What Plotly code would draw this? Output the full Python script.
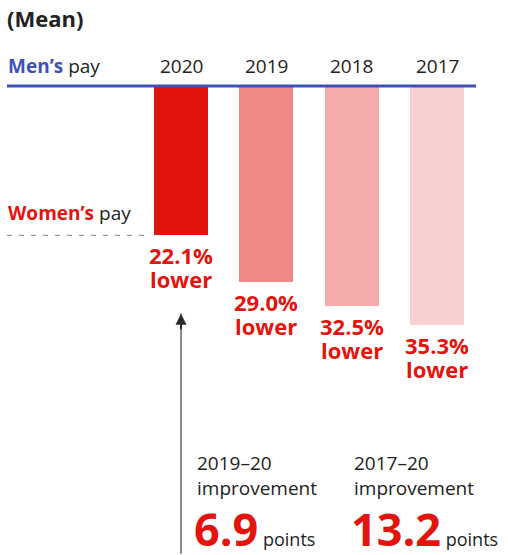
import plotly.graph_objects as go

years = ["2020", "2019", "2018", "2017"]
gap_pct = [22.1, 29.0, 32.5, 35.3]
bar_colors = ["#e3140d", "#f08986", "#f5abab", "#f8d0d0"]
periods = ["2019–20", "2017–20"]
improvement = [6.9, 13.2]

W, H = 508, 555
RED = "#e3140d"
BLUE = "#3f51b5"
DARK = "#222222"
FONT = "Open Sans"

xs = list(range(len(years)))

fig = go.Figure()
fig.add_trace(go.Bar(
    x=xs, y=gap_pct, base=0, width=0.633,
    marker=dict(color=bar_colors, line=dict(width=0)),
    hoverinfo="skip", showlegend=False,
))

def py(px):
    # pixel from top -> paper y
    return 1 - px / H

def pxx(px):
    return px / W

ann = []
ann.append(dict(text="<b>(Mean)</b>", x=pxx(5), y=py(18), xref="paper", yref="paper",
                xanchor="left", yanchor="middle", showarrow=False,
                font=dict(size=22, color=DARK)))
ann.append(dict(text="<b><span style='color:%s'>Men’s</span></b> pay" % BLUE,
                x=pxx(6), y=py(66), xref="paper", yref="paper",
                xanchor="left", yanchor="middle", showarrow=False,
                font=dict(size=19, color=DARK)))
ann.append(dict(text="<b><span style='color:%s'>Women’s</span></b> pay" % RED,
                x=pxx(6), y=py(213), xref="paper", yref="paper",
                xanchor="left", yanchor="middle", showarrow=False,
                font=dict(size=19, color=DARK)))

for i, yr in enumerate(years):
    ann.append(dict(text=yr, x=i, xref="x", y=py(66), yref="paper",
                    xanchor="center", yanchor="middle", showarrow=False,
                    font=dict(size=19, color=DARK)))
    ann.append(dict(text="<b>%.1f%%</b>" % gap_pct[i], x=i, y=gap_pct[i],
                    xanchor="center", yanchor="top", yshift=-3, showarrow=False,
                    font=dict(size=22, color=RED)))
    ann.append(dict(text="<b>lower</b>", x=i, y=gap_pct[i],
                    xanchor="center", yanchor="top", yshift=-27, showarrow=False,
                    font=dict(size=22, color=RED)))

# arrow from bottom up to the 2020 label: grey shaft, dark head
tip = gap_pct[0] + 11.6
ann.append(dict(x=0, y=tip, ax=0, ay=69.4, xref="x", yref="y",
                axref="x", ayref="y", text="", showarrow=True,
                arrowhead=0, arrowwidth=2, arrowcolor="#8a8a8a"))
ann.append(dict(x=0, y=tip, ax=0, ay=tip + 2.5, xref="x", yref="y",
                axref="x", ayref="y", text="", showarrow=True,
                arrowhead=2, arrowsize=1.1, arrowwidth=2, arrowcolor="#2a2a2a"))

text_x = [195, 352]
for j, p in enumerate(periods):
    ann.append(dict(text=p, x=pxx(text_x[j]), y=py(463), xref="paper", yref="paper",
                    xanchor="left", yanchor="middle", showarrow=False,
                    font=dict(size=19, color=DARK)))
    ann.append(dict(text="improvement", x=pxx(text_x[j]), y=py(488), xref="paper", yref="paper",
                    xanchor="left", yanchor="middle", showarrow=False,
                    font=dict(size=19, color=DARK)))
    ann.append(dict(text="<b><span style='font-size:45px;color:%s'>%.1f</span></b> points"
                    % (RED, improvement[j]),
                    x=pxx(text_x[j] - 2), y=py(555), xref="paper", yref="paper",
                    xanchor="left", yanchor="bottom", yshift=-5, showarrow=False,
                    borderpad=0, font=dict(size=18, color=DARK)))

shapes = [
    dict(type="line", xref="paper", yref="y", x0=pxx(7), x1=pxx(476), y0=0, y1=0,
         line=dict(color=BLUE, width=3), layer="above"),
    dict(type="line", xref="paper", yref="y", x0=pxx(7), x1=pxx(150),
         y0=gap_pct[0], y1=gap_pct[0],
         line=dict(color="#9a9a9a", width=1.2, dash="5px,7px")),
]

fig.update_layout(
    width=W, height=H,
    margin=dict(l=0, r=0, t=0, b=0),
    paper_bgcolor="white", plot_bgcolor="white",
    font=dict(family=FONT, color=DARK),
    xaxis=dict(range=[-2.121, 3.832], visible=False, fixedrange=True),
    yaxis=dict(range=[69.38, -12.72], visible=False, fixedrange=True),
    annotations=ann, shapes=shapes,
    bargap=0,
)

fig.write_html("out.html", config={"displayModeBar": False},
               post_script="document.body.style.margin='0';document.body.style.overflow='hidden';")
